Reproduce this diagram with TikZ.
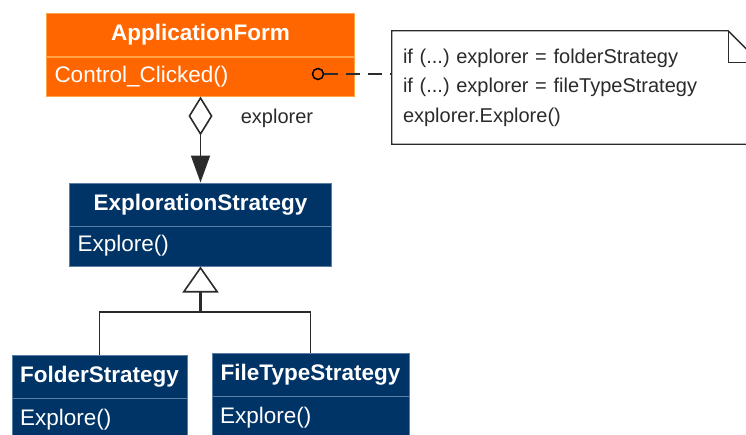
\documentclass[tikz,border=0pt]{standalone}
\usepackage{fontspec}
\setmainfont{Liberation Sans}
\usetikzlibrary{arrows.meta}

\definecolor{formorange}{HTML}{FF6600}
\definecolor{formedge}{HTML}{FFA347}
\definecolor{classblue}{HTML}{003366}
\definecolor{classedge}{HTML}{5A7FA6}
\definecolor{linegray}{HTML}{2B2B2B}

\begin{document}
\begin{tikzpicture}[
    x=1pt,
    y=-1pt,
    head/.style={
        rectangle,
        minimum height=43pt,
        inner sep=0pt,
        text=white,
        font=\fontsize{22.5}{26}\selectfont\bfseries
    },
    body/.style={
        rectangle,
        minimum height=40pt,
        inner xsep=8pt,
        inner ysep=0pt,
        text width=#1,
        align=left,
        text=white,
        font=\fontsize{22.5}{26}\selectfont
    },
    form/.style={
        fill=formorange,
        draw=formedge,
        line width=1pt
    },
    strategy/.style={
        fill=classblue,
        draw=classedge,
        line width=1pt
    },
    comment/.style={
        rectangle,
        minimum width=368pt,
        minimum height=113pt,
        inner xsep=11pt,
        inner ysep=0pt,
        text width=346pt,
        align=left,
        text=linegray,
        font=\fontsize{20}{29.5}\selectfont\frenchspacing
    },
    link/.style={
        draw=linegray,
        line width=1.6pt
    }
]

\useasboundingbox (0,0) rectangle (746,434);
\fill[white] (0,0) rectangle (746,434);
\clip (0,0) rectangle (746,434);

% Client class
\node[head, form, minimum width=308pt] (appHead) at (200.5,34.5) {ApplicationForm};
\node[body=292pt, form, minimum height=39pt] (appBody) at (200.5,76.5) {Control\_Clicked()};

% Strategy interface
\node[head, strategy, minimum width=262pt] (expHead) at (200.5,204.5) {ExplorationStrategy};
\node[body=246pt, strategy] (expBody) at (200.5,246) {Explore()};

% Concrete strategies
\node[head, strategy, minimum width=175pt] (folderHead) at (99.5,376.5) {FolderStrategy};
\node[body=159pt, strategy, minimum height=43pt] (folderBody) at (99.5,419.5) {Explore()};

\node[head, strategy, minimum width=197pt] (fileHead) at (310.5,374.5) {FileTypeStrategy};
\node[body=181pt, strategy, minimum height=43pt] (fileBody) at (310.5,417.5) {Explore()};

% Note
\node[comment] (note) at (576,87.5) {if (...) explorer = folderStrategy\\
if (...) explorer = fileTypeStrategy\\
explorer.Explore()};
\draw[link, line width=1.3pt] (note.north west) -- ([xshift=-32pt]note.north east)
    -- ([yshift=-32pt]note.north east) -- (note.south east) -- (note.south west) -- cycle;
\draw[link, line width=1.3pt] ([xshift=-32pt]note.north east) |- ([yshift=-32pt]note.north east);

\node[circle, draw=black, line width=1.5pt, minimum size=11pt, inner sep=0pt] (port) at (318,74) {};
\draw[link, dash pattern=on 14pt off 8pt] (port) -- (port -| note.west);

% Aggregation
\draw[link, {Diamond[open,length=39pt,width=24pt]}-{Triangle[length=27pt,width=19pt]}]
    (appBody.south) -- (expHead.north);
\node[text=linegray, font=\fontsize{20}{24}\selectfont] (role) at (277,118) {explorer};

% Inheritance
\coordinate (fork) at (200.5,312);
\draw[link] (folderHead.north) |- (fork) -| (fileHead.north);
\draw[link, line width=2.4pt, -{Triangle[open,length=26pt,width=36pt,line width=1.6pt]}] (fork) -- (expBody.south);

\end{tikzpicture}
\end{document}
